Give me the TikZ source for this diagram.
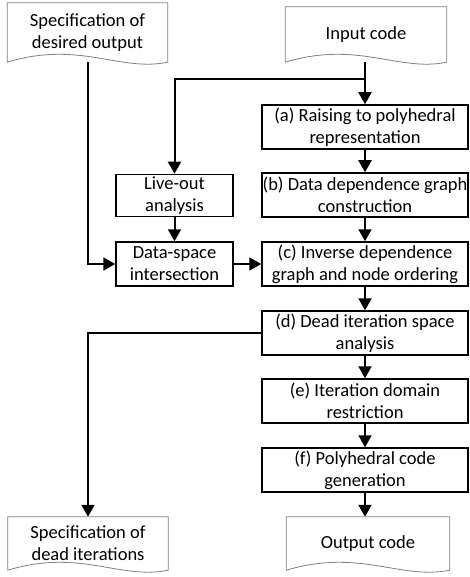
\documentclass[tikz,border=0pt]{standalone}
\usepackage{fontspec}
\setmainfont{Carlito}
\usetikzlibrary{arrows.meta,calc}
\pgfdeclarelayer{conn}
\pgfdeclarelayer{shapes}
\pgfsetlayers{conn,shapes,main}
\newcommand\docoutline[1]{%
  \begin{pgfonlayer}{shapes}
  \path let \p1=(#1.south west), \p2=(#1.south east), \n1={\x2-\x1} in
    [docline] (#1.north west) -- (#1.north east) -- (#1.south east)
    .. controls ($(\p2)+(-0.3*\n1,-10pt)$) and ($(\p1)+(0.45*\n1,22pt)$) .. (#1.south west) -- cycle;
  \end{pgfonlayer}}
\begin{document}
\begin{tikzpicture}[x=1pt,y=-1pt,
  txt/.style={font=\fontsize{18.5}{22}\selectfont,align=center,inner sep=0pt},
  proc/.style={txt,draw=black,line width=1.5pt,fill=white,minimum width=206pt,minimum height=44pt},
  side/.style={txt,draw=black,line width=1.5pt,fill=white,minimum width=117pt,minimum height=42pt},
  doc/.style={txt,minimum width=160pt},
  docline/.style={draw={rgb,255:red,128;green,128;blue,128},line width=0.8pt,fill=white},
  arr/.style={draw=black,line width=2pt,-{Triangle[length=12pt,width=13pt]}}]
\useasboundingbox (0,0) rectangle (470,577);

\node[doc,minimum height=59pt] (sd) at (87.5,32.5) {Specification of\\desired output};
\node[doc,minimum height=55pt,minimum width=161pt] (in) at (366,34.5) {Input code};

\node[proc] (a) at (365,127) {(a) Raising to polyhedral\\representation};
\node[proc] (b) at (365,195) {(b) Data dependence graph\\construction};
\node[proc] (c) at (365,264) {(c) Inverse dependence\\graph and node ordering};
\node[proc] (d) at (365,333) {(d) Dead iteration space\\analysis};
\node[proc] (e) at (365,401) {(e) Iteration domain\\restriction};
\node[proc] (f) at (365,470) {(f) Polyhedral code\\generation};

\node[side] (lo) at (174.5,195.5) {Live-out\\analysis};
\node[side,minimum height=44pt] (ds) at (174.5,264) {Data-space\\intersection};

\node[doc,minimum height=53pt] (dead) at (88,543.5) {Specification of\\dead iterations};
\node[doc,minimum height=53pt,minimum width=163pt] (out) at (368,543.5) {Output code};

\docoutline{sd}
\docoutline{in}
\docoutline{dead}
\docoutline{out}

\coordinate (j) at (365,79);
\begin{pgfonlayer}{conn}
\draw[arr] (a.north |- in.south) -- (a.north);
\draw[arr] (j) -| (lo.north);
\draw[arr] (sd.south) |- (ds.west);
\draw[arr] (d.west) -| (dead.north);
\draw[arr] (f.south) -- (f.south |- out.north);
\end{pgfonlayer}
\draw[arr] (a) -- (b);
\draw[arr] (b) -- (c);
\draw[arr] (c) -- (d);
\draw[arr] (d) -- (e);
\draw[arr] (e) -- (f);
\draw[arr] (lo) -- (ds);
\draw[arr] (ds) -- (c);
\end{tikzpicture}
\end{document}
